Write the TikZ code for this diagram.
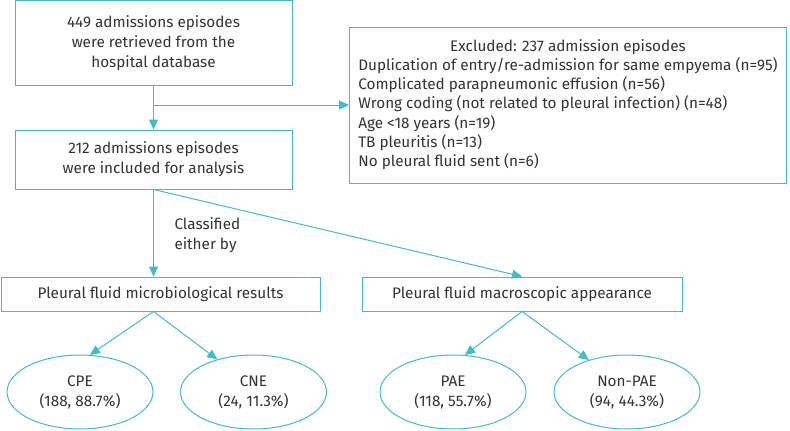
\documentclass[tikz,border=0pt]{standalone}
\usepackage{fontspec}
\setmainfont{Fira Sans}
\usetikzlibrary{arrows.meta,shapes.geometric,calc}
\definecolor{flowteal}{RGB}{62,190,196}
\definecolor{flowtext}{RGB}{51,51,51}

\begin{document}
\begin{tikzpicture}[x=1pt, y=-1pt, font=\fontsize{15.3}{20}\selectfont, text=flowtext,
	arr/.style={draw=flowteal, line width=1pt, -{Triangle[length=10pt,width=9pt]}},
	box/.style={draw=flowteal, line width=1pt, align=center, inner sep=0pt},
	oval/.style={draw=flowteal, line width=1pt, ellipse, align=center, inner sep=0pt,
		minimum width=146pt, minimum height=74pt}]
\useasboundingbox (0,0) rectangle (790,431);

% TOP BOXES
	\node [box, minimum width=277pt, minimum height=85pt] (retrieved) at (153.5,43)
	{449 admissions episodes\\were retrieved from the\\hospital database};
	\node [box, minimum width=277pt, minimum height=59pt] (included) at (153.5,159.5)
	{212 admissions episodes\\were included for analysis};
	\node [box, minimum width=437pt, minimum height=156pt] (excluded) at (568,105)
	{\def\arraystretch{0.96}\begin{tabular}{@{}l@{}}
	\multicolumn{1}{c}{Excluded: 237 admission episodes}\\
	Duplication of entry/re-admission for same empyema (n=95)\\
	Complicated parapneumonic effusion (n=56)\\
	Wrong coding (not related to pleural infection) (n=48)\\
	Age <18 years (n=19)\\
	TB pleuritis (n=13)\\
	No pleural fluid sent (n=6)
	\end{tabular}};

% CLASSIFICATION
	\node [box, minimum width=319pt, minimum height=34pt] (micro) at (160.5,294)
	{Pleural fluid microbiological results};
	\node [box, minimum width=320pt, minimum height=34pt] (macro) at (522,294)
	{Pleural fluid macroscopic appearance};
	\node [anchor=west, align=left] (either) at (171,235) {Classified\\either by};

% GROUPS
	\node [oval] (cpe) at (80,392) {CPE\\(188, 88.7\%)};
	\node [oval] (cne) at (253.5,392) {CNE\\(24, 11.3\%)};
	\node [oval] (pae) at (453,392) {PAE\\(118, 55.7\%)};
	\node [oval] (npae) at (627,392) {Non-PAE\\(94, 44.3\%)};

% CONNECTORS
	\coordinate (split) at (retrieved.south |- excluded.west);
	\coordinate (microin) at (included.south |- micro.north);
	\coordinate (microout) at (included.south |- micro.south);
	\draw [arr] (retrieved.south) -- (included.north);
	\draw [arr] (split) -- (excluded.west);
	\draw [arr] (included.south) -- (microin);
	\draw [arr] (included.south) -- (macro.north);
	\draw [arr] (microout) -- (cpe.75);
	\draw [arr] (microout) -- (cne.138);
	\draw [arr] (macro.south) -- (pae.72);
	\draw [arr] (macro.south) -- (npae.140);

\end{tikzpicture}
\end{document}
